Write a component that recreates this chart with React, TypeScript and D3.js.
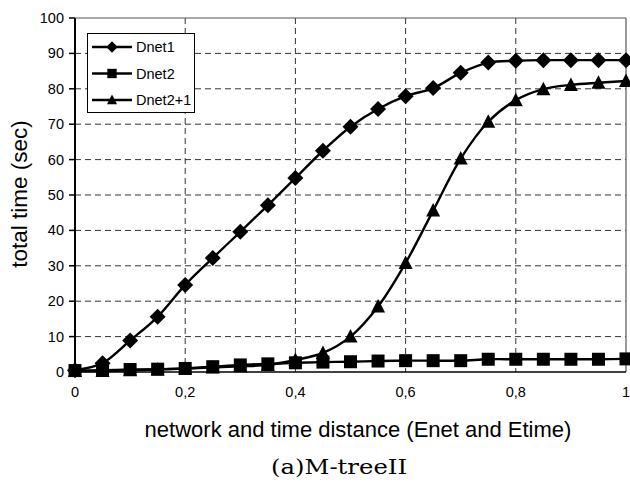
import React from "react";
import * as d3 from "d3";

const xValues = [0, 0.05, 0.1, 0.15, 0.2, 0.25, 0.3, 0.35, 0.4, 0.45, 0.5, 0.55, 0.6, 0.65, 0.7, 0.75, 0.8, 0.85, 0.9, 0.95, 1];
const dnet1 = [0.5, 2.5, 8.9, 15.6, 24.6, 32.2, 39.6, 47.1, 54.8, 62.5, 69.3, 74.3, 77.9, 80.2, 84.5, 87.4, 87.9, 88.1, 88.1, 88.1, 88.1];
const dnet2 = [0.4, 0.5, 0.7, 0.8, 1.0, 1.5, 2.0, 2.3, 2.6, 2.8, 2.9, 3.1, 3.2, 3.2, 3.2, 3.6, 3.6, 3.6, 3.6, 3.6, 3.7];
const dnet21 = [0.3, 0.3, 0.5, 0.7, 1.0, 1.3, 1.6, 2.0, 3.4, 5.4, 10.0, 18.5, 30.8, 45.6, 60.3, 70.7, 76.8, 79.9, 81.1, 81.7, 82.2];

const xTicks = [0, 0.2, 0.4, 0.6, 0.8, 1];
const yTicks = [0, 10, 20, 30, 40, 50, 60, 70, 80, 90, 100];

const seriesNames = ["Dnet1", "Dnet2", "Dnet2+1"];
const seriesValues = [dnet1, dnet2, dnet21];
const seriesMarkers = ["diamond", "square", "triangle"];

const W = 630;
const H = 486;
const left = 75;
const right = 626;
const top = 18;
const bottom = 372;

const x = d3.scaleLinear().domain([0, 1]).range([left, right]);
const y = d3.scaleLinear().domain([0, 100]).range([bottom, top]);

const fmtX = (v: number) => (v === 0 || v === 1 ? String(v) : String(v).replace(".", ","));

function markerPath(kind: string): string {
  if (kind === "diamond") return "M0,-8L8,0L0,8L-8,0Z";
  if (kind === "square") return "M-6.5,-6.5H6.5V6.5H-6.5Z";
  return "M0,-7.5L7,6L-7,6Z";
}

export default function App() {
  const line = d3
    .line<number>()
    .x((_, i) => x(xValues[i]))
    .y((d) => y(d))
    .curve(d3.curveCatmullRom.alpha(0.5));

  const font = "'Liberation Sans', Arial, sans-serif";

  return (
    <svg
      width={W}
      height={H}
      style={{ position: "absolute", left: 0, top: 0, background: "#fff" }}
      fontFamily={font}
    >
      <rect x={0} y={0} width={W} height={H} fill="#fff" />
      {/* grid */}
      {yTicks.slice(1, -1).map((t) => (
        <line key={"gy" + t} x1={left} x2={right} y1={y(t)} y2={y(t)} stroke="#333" strokeWidth={1} strokeDasharray="6,4" />
      ))}
      {xTicks.slice(1, -1).map((t) => (
        <line key={"gx" + t} x1={x(t)} x2={x(t)} y1={top} y2={bottom} stroke="#333" strokeWidth={1} strokeDasharray="6,4" />
      ))}
      {/* frame */}
      <line x1={left} x2={right} y1={top} y2={top} stroke="#555" strokeWidth={1.2} />
      <line x1={right} x2={right} y1={top} y2={bottom} stroke="#555" strokeWidth={1.2} />
      <line x1={left} x2={right} y1={bottom} y2={bottom} stroke="#000" strokeWidth={1.5} />
      <line x1={left} x2={left} y1={top} y2={bottom} stroke="#000" strokeWidth={2} />
      {yTicks.map((t) => (
        <g key={"yt" + t}>
          <line x1={left - 6} x2={left} y1={y(t)} y2={y(t)} stroke="#000" strokeWidth={1.5} />
          <text x={64} y={y(t)} dy="0.35em" textAnchor="end" fontSize={14.5}>
            {t}
          </text>
        </g>
      ))}
      {xTicks.map((t) => (
        <text key={"xt" + t} x={x(t)} y={397} textAnchor="middle" fontSize={14.5}>
          {fmtX(t)}
        </text>
      ))}
      <text x={358} y={437} textAnchor="middle" fontSize={22}>
        network and time distance (Enet and Etime)
      </text>
      <text transform={`translate(27,194) rotate(-90)`} textAnchor="middle" fontSize={22.5}>
        total time (sec)
      </text>
      <text
        x={339}
        y={474}
        textAnchor="middle"
        fontSize={21}
        textLength={136}
        lengthAdjust="spacingAndGlyphs"
        fontFamily="'DejaVu Serif', 'Liberation Serif', serif"
      >
        (a)M-treeII
      </text>
      {/* series */}
      {seriesValues.map((vals, si) => (
        <g key={"s" + si}>
          <path d={line(vals) || ""} fill="none" stroke="#000" strokeWidth={2.4} />
          {vals.map((v, i) => (
            <path key={i} d={markerPath(seriesMarkers[si])} transform={`translate(${x(xValues[i])},${y(v)})`} fill="#000" />
          ))}
        </g>
      ))}
      {/* legend */}
      <rect x={87.5} y={33.5} width={107} height={79} fill="#fff" stroke="#000" strokeWidth={1} />
      {seriesNames.map((n, i) => {
        const ly = 47 + i * 26.5;
        return (
          <g key={"lg" + n}>
            <line x1={92} x2={132} y1={ly} y2={ly} stroke="#000" strokeWidth={2.4} />
            <path d={markerPath(seriesMarkers[i])} transform={`translate(112,${ly}) scale(0.72)`} fill="#000" />
            <text x={136} y={ly} dy="0.35em" fontSize={14.5}>
              {n}
            </text>
          </g>
        );
      })}
    </svg>
  );
}
